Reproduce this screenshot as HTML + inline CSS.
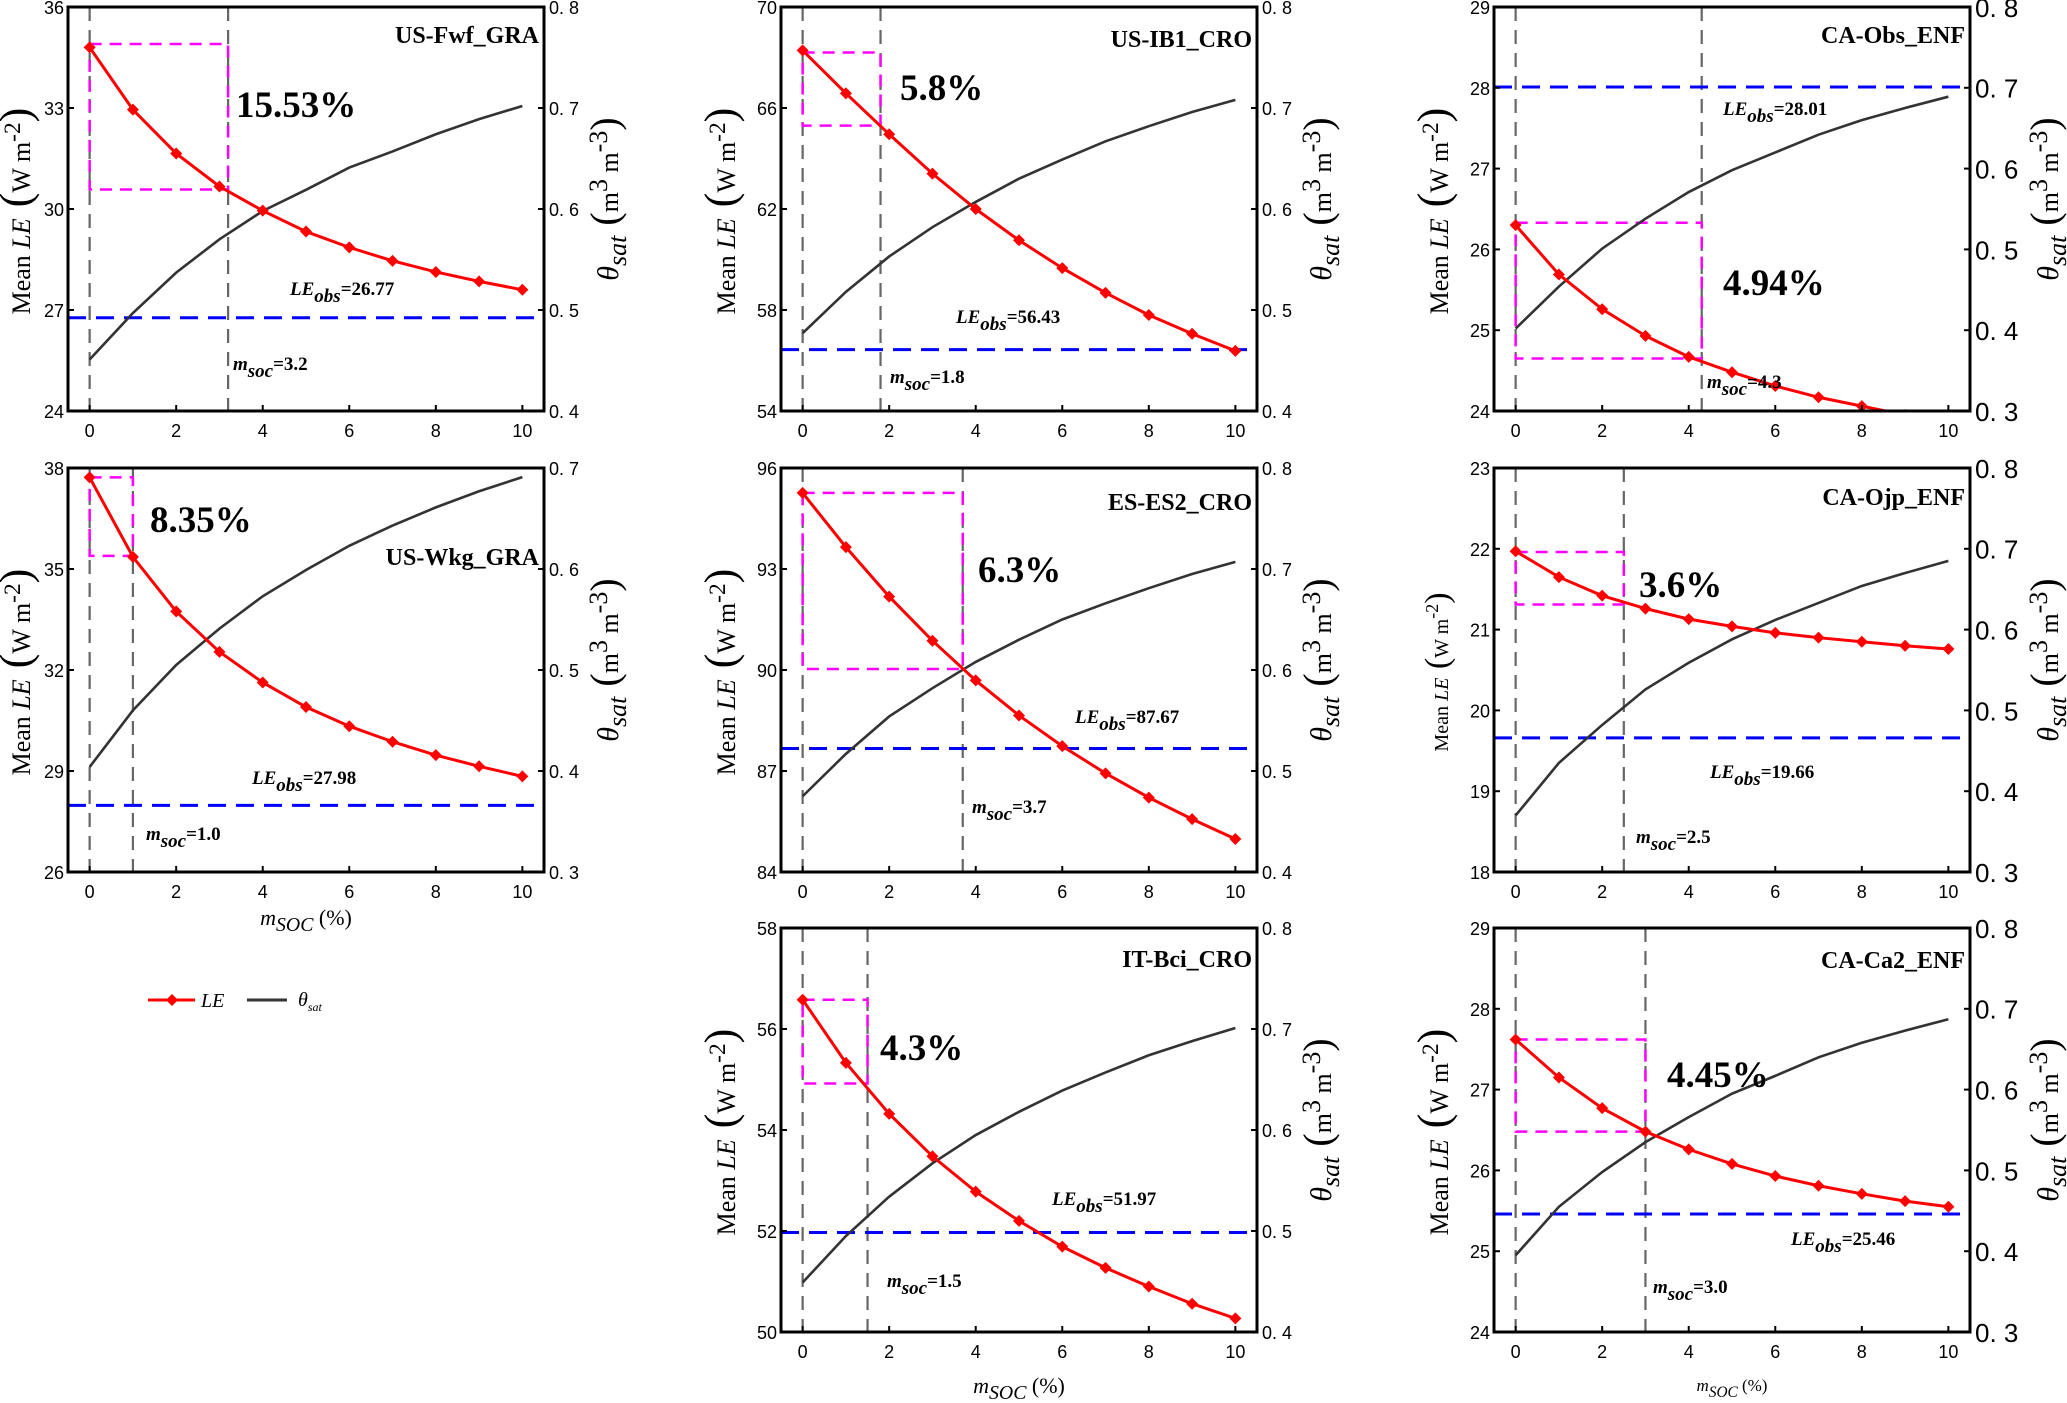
<!DOCTYPE html>
<html><head><meta charset="utf-8"><title>LE vs m_soc sensitivity</title>
<style>
html,body{margin:0;padding:0;background:#fff;}
svg{display:block;}
text{font-family:"Liberation Serif",serif;}
.tick{font-family:"Liberation Sans",sans-serif;font-size:18px;fill:#000;}
</style></head>
<body>
<svg id="fig" xmlns="http://www.w3.org/2000/svg" width="2067" height="1403" viewBox="0 0 2067 1403"></svg>
<script>
// ---- data ----
const sites = ["US-Fwf_GRA","US-IB1_CRO","CA-Obs_ENF","US-Wkg_GRA","ES-ES2_CRO","CA-Ojp_ENF","IT-Bci_CRO","CA-Ca2_ENF"];
const xValues = [0,1,2,3,4,5,6,7,8,9,10];
const xTicks = [0,2,4,6,8,10];
const leValues = [
 [34.8,32.95,31.65,30.67,29.95,29.33,28.86,28.46,28.13,27.85,27.6],
 [68.28,66.58,64.96,63.4,62.0,60.76,59.66,58.68,57.8,57.06,56.38],
 [26.30,25.69,25.26,24.93,24.67,24.48,24.31,24.17,24.06,23.95,23.86],
 [37.72,35.36,33.74,32.54,31.63,30.90,30.33,29.87,29.47,29.14,28.84],
 [95.26,93.65,92.18,90.87,89.69,88.65,87.74,86.93,86.21,85.57,84.98],
 [21.97,21.65,21.42,21.26,21.13,21.04,20.96,20.90,20.85,20.80,20.76],
 [56.58,55.33,54.32,53.48,52.78,52.20,51.69,51.27,50.90,50.56,50.27],
 [27.62,27.15,26.77,26.48,26.26,26.08,25.93,25.81,25.71,25.62,25.55]
];
const thetaValues = [
 [0.451,0.497,0.537,0.570,0.598,0.619,0.641,0.657,0.674,0.689,0.702],
 [0.477,0.518,0.553,0.582,0.607,0.630,0.649,0.667,0.682,0.696,0.708],
 [0.402,0.454,0.501,0.538,0.571,0.598,0.620,0.642,0.660,0.675,0.689],
 [0.404,0.460,0.505,0.541,0.573,0.599,0.623,0.643,0.661,0.677,0.691],
 [0.475,0.517,0.554,0.582,0.608,0.630,0.650,0.666,0.681,0.695,0.707],
 [0.370,0.435,0.482,0.526,0.559,0.588,0.612,0.633,0.654,0.670,0.685],
 [0.449,0.495,0.534,0.567,0.595,0.618,0.639,0.657,0.674,0.688,0.701],
 [0.395,0.455,0.498,0.535,0.566,0.595,0.617,0.640,0.658,0.673,0.687]
];
const leObs = [26.77,56.43,28.01,27.98,87.67,19.66,51.97,25.46];
const leObsLabels = ["26.77","56.43","28.01","27.98","87.67","19.66","51.97","25.46"];
const msocValues = [3.2,1.8,4.3,1.0,3.7,2.5,1.5,3.0];
const msocLabels = ["3.2","1.8","4.3","1.0","3.7","2.5","1.5","3.0"];
const rectLow = [30.58,65.3,24.65,35.39,90.03,21.31,54.92,26.48];
const rectHigh = [34.9,68.2,26.33,37.72,95.26,21.96,56.58,27.62];
const pctLabels = ["15.53%","5.8%","4.94%","8.35%","6.3%","3.6%","4.3%","4.45%"];
const yMin = [24,54,24,26,84,18,50,24];
const yMax = [36,70,29,38,96,23,58,29];
const yStep = [3,4,1,3,3,1,2,1];
const tMin = [0.4,0.4,0.3,0.3,0.4,0.3,0.4,0.3];
const tMax = [0.8,0.8,0.8,0.7,0.8,0.8,0.8,0.8];

// ---- layout (pixels) ----
const layout = [
 {L:68,T:7},{L:781,T:7},{L:1494,T:7},
 {L:68,T:468},{L:781,T:468},{L:1494,T:468},
 {L:781,T:928},{L:1494,T:928}
];
const W = 476, H = 404;
const labelPos = [
 {tb:36,pc:[168,110],lo:[222,288],ms:[165,363]},
 {tb:40,pc:[119,93],lo:[175,316],ms:[109,376]},
 {tb:36,pc:[229,288],lo:[229,108],ms:[213,381]},
 {tb:97,pc:[82,64],lo:[184,316],ms:[78,372]},
 {tb:42,pc:[197,114],lo:[294,255],ms:[191,345]},
 {tb:37,pc:[145,129],lo:[216,310],ms:[142,375]},
 {tb:39,pc:[99,132],lo:[271,277],ms:[106,359]},
 {tb:40,pc:[173,159],lo:[297,317],ms:[159,365]}
];

const NS = "http://www.w3.org/2000/svg";
const svg = document.getElementById("fig");
function mk(tag, attrs, parent){
  const e = document.createElementNS(NS, tag);
  for (const k in attrs) e.setAttribute(k, attrs[k]);
  (parent||svg).appendChild(e);
  return e;
}
function tspan(parent, txt, attrs){
  const t = document.createElementNS(NS,"tspan");
  for (const k in (attrs||{})) t.setAttribute(k, attrs[k]);
  t.textContent = txt;
  parent.appendChild(t);
  return t;
}

const defs = mk("defs", {});

sites.forEach((site, i) => {
  const {L, T} = layout[i];
  const R = L + W, B = T + H;
  const xs = v => L + (v + 0.5) / 11 * W;
  const yl = v => B - (v - yMin[i]) / (yMax[i] - yMin[i]) * H;
  const yr = v => B - (v - tMin[i]) / (tMax[i] - tMin[i]) * H;
  const col = L < 700 ? 0 : (L < 1400 ? 1 : 2);

  const g = mk("g", {});
  
  

  const cp = mk("clipPath", {id: "clip" + i}, defs);
  mk("rect", {x: L, y: T, width: W, height: H}, cp);

  const plot = mk("g", {"clip-path": "url(#clip" + i + ")"}, g);

  [0, msocValues[i]].forEach((xv, k) => {
    const ln = mk("line", {x1: xs(xv), x2: xs(xv), y1: T, y2: B, stroke: "#666", "stroke-width": 2.2, "stroke-dasharray": "14 9"}, plot);
    
    
  });

  const rc = mk("rect", {x: xs(0), y: yl(rectHigh[i]), width: xs(msocValues[i]) - xs(0), height: yl(rectLow[i]) - yl(rectHigh[i]), fill: "none", stroke: "#ff00ff", "stroke-width": 2.5, "stroke-dasharray": "12 8"}, plot);
  
  

  const bl = mk("line", {x1: L, x2: R, y1: yl(leObs[i]), y2: yl(leObs[i]), stroke: "#0000ff", "stroke-width": 3, "stroke-dasharray": "18 10"}, plot);
  
  

  const tp = xValues.map((x, k) => xs(x) + "," + yr(thetaValues[i][k])).join(" ");
  const tl = mk("polyline", {points: tp, fill: "none", stroke: "#333", "stroke-width": 2.6}, plot);
  
  

  const lp = xValues.map((x, k) => xs(x) + "," + yl(leValues[i][k])).join(" ");
  const ll = mk("polyline", {points: lp, fill: "none", stroke: "#ff0000", "stroke-width": 3}, plot);
  
  
  xValues.forEach((x, k) => {
    const cx = xs(x), cy = yl(leValues[i][k]), s = 6;
    const d = mk("polygon", {points: `${cx},${cy-s} ${cx+s},${cy} ${cx},${cy+s} ${cx-s},${cy}`, fill: "#ff0000"}, plot);
    
    
  });

  const bx = mk("rect", {x: L, y: T, width: W, height: H, fill: "none", stroke: "#000", "stroke-width": 3}, g);
  
  

  xTicks.forEach(v => {
    mk("line", {x1: xs(v), x2: xs(v), y1: B, y2: B - 6, stroke: "#000", "stroke-width": 2}, g);
    const t = mk("text", {x: xs(v), y: B + 26, "text-anchor": "middle", class: "tick"}, g);
    t.textContent = v;
    
    
  });
  for (let v = yMin[i]; v <= yMax[i] + 1e-9; v += yStep[i]) {
    mk("line", {x1: L, x2: L + 6, y1: yl(v), y2: yl(v), stroke: "#000", "stroke-width": 2}, g);
    const t = mk("text", {x: L - 4, y: yl(v) + 7, "text-anchor": "end", class: "tick"}, g);
    t.textContent = v;
    
    
  }
  const rfs = col === 2 ? 26 : 18;
  for (let v = tMin[i]; v <= tMax[i] + 1e-9; v += 0.1) {
    mk("line", {x1: R, x2: R - 6, y1: yr(v), y2: yr(v), stroke: "#000", "stroke-width": 2}, g);
    const t = mk("text", {x: R + 5, y: yr(v) + rfs * 0.38, "text-anchor": "start", class: "tick", style: "font-size:" + rfs + "px"}, g);
    t.textContent = v.toFixed(1).replace('.', '. ');
    
    
  }

  // left axis title
  const yfs = (i === 5) ? 20 : 26;
  const ytx = L - (col === 0 ? 38 : 46);
  const yt = mk("text", {x: ytx, y: T + H / 2 + 2, "text-anchor": "middle", "font-size": yfs, transform: `rotate(-90 ${ytx} ${T + H / 2 + 2})`}, g);
  tspan(yt, "Mean ");
  tspan(yt, "LE", {"font-style": "italic"});
  tspan(yt, " (", {"font-size": yfs * 1.7});
  tspan(yt, "W m");
  tspan(yt, "-2", {dy: -10, "font-size": yfs * 0.9});
  tspan(yt, ")", {dy: 10, "font-size": yfs * 1.7});
  
  

  // right axis title
  const rtx = R + (col === 2 ? 88 : 74);
  const rcy = T + H / 2 - 10;
  const rt = mk("text", {x: rtx, y: rcy, "text-anchor": "middle", "font-size": 26, transform: `rotate(-90 ${rtx} ${rcy})`}, g);
  tspan(rt, "θ", {"font-style": "italic", "font-size": 30});
  tspan(rt, "sat", {"font-style": "italic", dy: 8, "font-size": 26});
  tspan(rt, " (", {dy: -8, "font-size": 40});
  tspan(rt, "m");
  tspan(rt, "3", {dy: -11});
  tspan(rt, " m", {dy: 11});
  tspan(rt, "-3", {dy: -11});
  tspan(rt, ")", {dy: 11, "font-size": 40});
  
  

  const lp2 = labelPos[i];
  const st = mk("text", {x: R - 5, y: T + lp2.tb, "text-anchor": "end", "font-size": 24, "font-weight": "bold"}, g);
  st.textContent = site;
  
  

  const pc = mk("text", {x: L + lp2.pc[0], y: T + lp2.pc[1], "font-size": 37, "font-weight": "bold"}, g);
  pc.textContent = pctLabels[i];
  
  

  const lo = mk("text", {x: L + lp2.lo[0], y: T + lp2.lo[1], "font-size": 19, "font-weight": "bold"}, g);
  tspan(lo, "LE", {"font-style": "italic"});
  tspan(lo, "obs", {"font-style": "italic", dy: 7});
  tspan(lo, "=" + leObsLabels[i], {dy: -7});
  
  

  const ms = mk("text", {x: L + lp2.ms[0], y: T + lp2.ms[1], "font-size": 19, "font-weight": "bold"}, g);
  tspan(ms, "m", {"font-style": "italic"});
  tspan(ms, "soc", {"font-style": "italic", dy: 7});
  tspan(ms, "=" + msocLabels[i], {dy: -7});
  
  
});

[[306, 925, 22], [1019, 1393, 22], [1732, 1391, 17]].forEach(p => {
  const t = mk("text", {x: p[0], y: p[1], "text-anchor": "middle", "font-size": p[2]});
  tspan(t, "m", {"font-style": "italic"});
  tspan(t, "SOC", {"font-style": "italic", dy: 6, "font-size": p[2] * 0.9});
  tspan(t, " (%)", {dy: -6});
  
  
});

const lg = mk("g", {});


const l1 = mk("line", {x1: 148, x2: 195, y1: 1000, y2: 1000, stroke: "#ff0000", "stroke-width": 3}, lg);


const dm = mk("polygon", {points: "172,994 178,1000 172,1006 166,1000", fill: "#ff0000"}, lg);


const t1 = mk("text", {x: 201, y: 1007, "font-size": 20, "font-style": "italic"}, lg);
t1.textContent = "LE";


const l2 = mk("line", {x1: 247, x2: 287, y1: 1000, y2: 1000, stroke: "#333", "stroke-width": 3}, lg);


const t2 = mk("text", {x: 298, y: 1006, "font-size": 20, "font-style": "italic"}, lg);
tspan(t2, "θ");
tspan(t2, "sat", {dy: 5, "font-size": 12});


</script>
</body></html>
